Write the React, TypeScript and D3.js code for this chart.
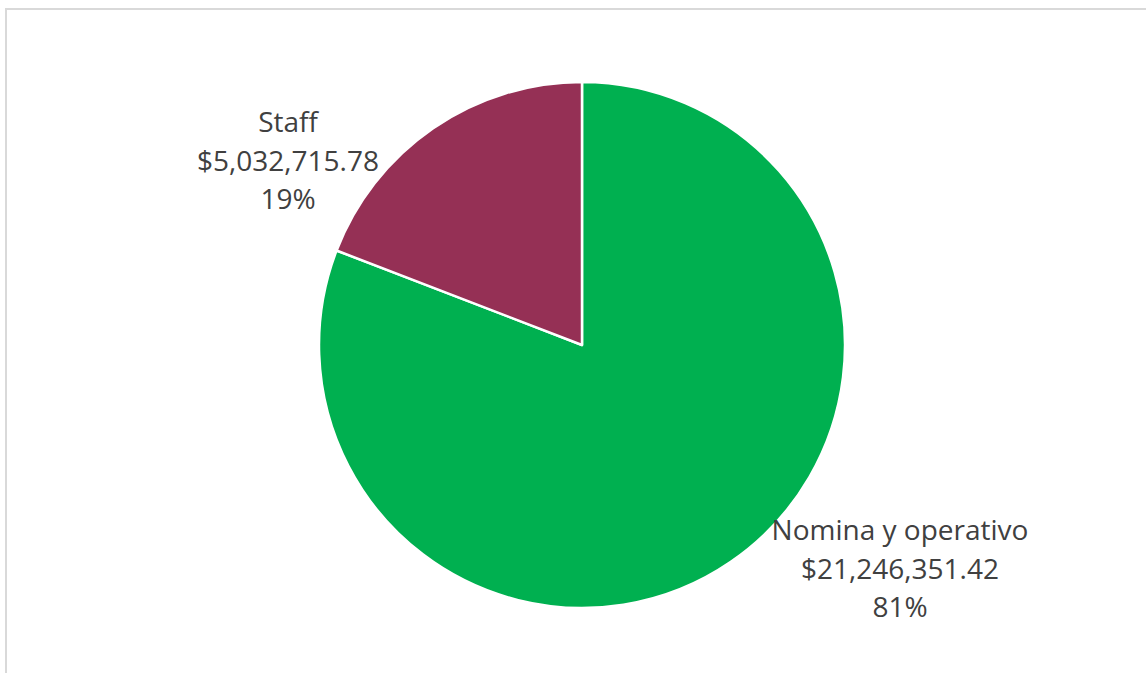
import * as d3 from 'd3'
import { useEffect, useRef } from 'react'

const categories = ['Nomina y operativo', 'Staff']
const amounts = [21246351.42, 5032715.78]
const colors = ['#00B050', '#953055']

// label block centres (x, first baseline)
const labelAnchors = [[900, 540], [288, 132]]

export default function App(){
    const svgRef = useRef<SVGSVGElement>(null)

    useEffect(() => {
        makeChart(svgRef)
    }, [])

    function makeChart(svgRef: React.RefObject<SVGSVGElement>){
        const width = 1146
        const height = 673
        const cx = 582
        const cy = 345
        const radius = 263

        const svg = d3.select(svgRef.current).attr('width', width).attr('height', height)
        svg.selectAll('*').remove()

        svg.append('rect')
            .attr('x', 6).attr('y', 9)
            .attr('width', 1160).attr('height', 700)
            .attr('fill', 'white')
            .attr('stroke', '#d9d9d9')
            .attr('stroke-width', 2)

        const data = categories.map((c, i) => ({ name: c, value: amounts[i], color: colors[i] }))
        const total = d3.sum(amounts)

        const pie = d3.pie<any>().value(d => d.value).sort(null)
        const arcs = pie(data)
        const arcGen = d3.arc<any>().innerRadius(0).outerRadius(radius)

        const g = svg.append('g').attr('transform', `translate(${cx},${cy})`)
        g.selectAll('path')
            .data(arcs)
            .enter()
            .append('path')
            .attr('d', arcGen)
            .attr('fill', d => d.data.color)
            .attr('stroke', 'white')
            .attr('stroke-width', 2.5)
            .attr('stroke-linejoin', 'round')

        const money = d3.format('$,.2f')
        const pct = d3.format('.0%')

        const labels = svg.append('g')
            .attr('font-family', '"Open Sans", sans-serif')
            .attr('font-size', 28)
            .attr('fill', '#404040')
            .attr('text-anchor', 'middle')

        data.forEach((d, i) => {
            const [x, y] = labelAnchors[i]
            const lines = [d.name, money(d.value), pct(d.value / total)]
            const t = labels.append('text').attr('x', x).attr('y', y)
            lines.forEach((l, j) => {
                t.append('tspan').attr('x', x).attr('dy', j === 0 ? 0 : 38.5).text(l)
            })
        })
    }

    return (
        <svg ref={svgRef} style={{ position: 'absolute', left: 0, top: 0 }}></svg>
    )
}
